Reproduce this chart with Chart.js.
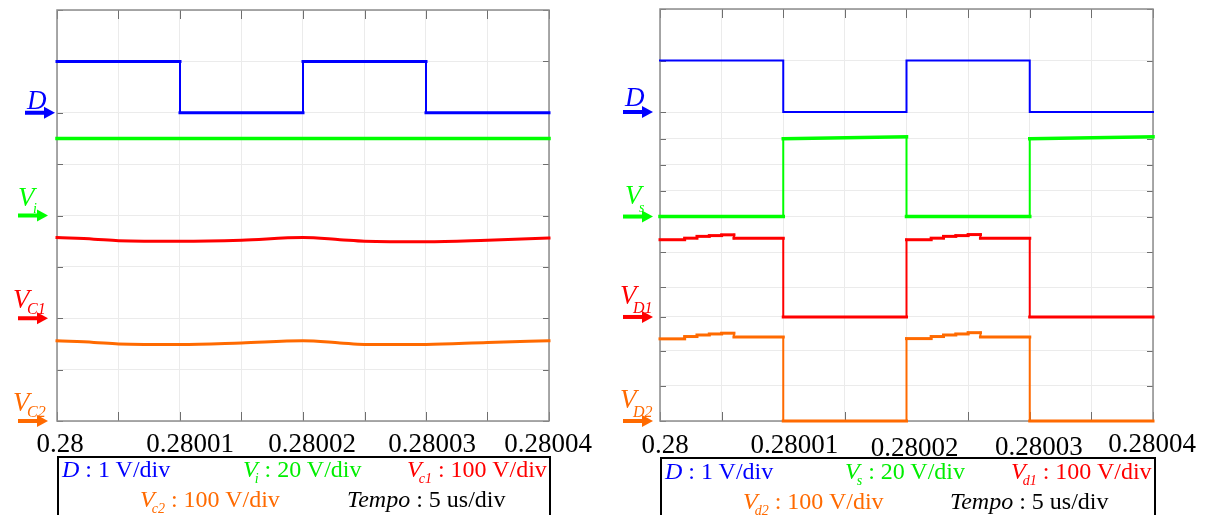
<!DOCTYPE html>
<html>
<head>
<meta charset="utf-8">
<script src="https://cdn.jsdelivr.net/npm/chart.js@4.4.1/dist/chart.umd.min.js"></script>
<style>
body { margin: 0; width: 1210px; height: 515px; background: #fff; position: relative; overflow: hidden; }
.panel { position: absolute; top: 0; width: 605px; height: 515px; }
.legend { position: absolute; border: 2px solid #000; height: 90px; box-sizing: border-box; }
.lt { position: absolute; font-family: "Liberation Serif", "Times New Roman", serif; font-size: 24px; line-height: 24px; white-space: nowrap; }
.lt i { font-style: italic; }
.lt .sb { font-style: italic; font-size: 14px; vertical-align: -6px; margin-left: -3px; }
</style>
</head>
<body>
<div class="panel" style="left:0"><canvas id="leftChart"></canvas></div>
<div class="panel" style="left:605px"><canvas id="rightChart"></canvas></div>

<div class="legend" style="left:57px; top:456px; width:494px"></div>
<div class="lt" style="left:62px; top:457px; color:#0000ff"><i>D</i> : 1 V/div</div>
<div class="lt" style="left:243px; top:457px; color:#00ee00"><i>V</i><span class="sb">i</span> : 20 V/div</div>
<div class="lt" style="left:407px; top:457px; color:#ff0000"><i>V</i><span class="sb">c1</span> : 100 V/div</div>
<div class="lt" style="left:140px; top:487px; color:#ff6a00"><i>V</i><span class="sb">c2</span> : 100 V/div</div>
<div class="lt" style="left:347px; top:487px; color:#000"><i>Tempo</i> : 5 us/div</div>

<div class="legend" style="left:660px; top:457px; width:496px"></div>
<div class="lt" style="left:665px; top:459px; color:#0000ff"><i>D</i> : 1 V/div</div>
<div class="lt" style="left:845px; top:459px; color:#00ee00"><i>V</i><span class="sb">s</span> : 20 V/div</div>
<div class="lt" style="left:1011px; top:459px; color:#ff0000"><i>V</i><span class="sb">d1</span> : 100 V/div</div>
<div class="lt" style="left:743px; top:489px; color:#ff6a00"><i>V</i><span class="sb">d2</span> : 100 V/div</div>
<div class="lt" style="left:950px; top:489px; color:#000"><i>Tempo</i> : 5 us/div</div>

<script>
// time axis (s) - grid every 5 us, labels every 10 us
var timeGrid = [0.28, 0.280005, 0.28001, 0.280015, 0.28002, 0.280025, 0.28003, 0.280035, 0.28004];
var timeLabelValues = [0.28, 0.28001, 0.28002, 0.28003, 0.28004];
var timeLabels = ['0.28', '0.28001', '0.28002', '0.28003', '0.28004'];

// vertical grid in divisions (bottom = 0, top = 8)
var gridLeft = [0, 1, 2, 3, 4, 5, 6, 7, 8];
var gridRight = [0, 0.687, 1.362, 2.02, 2.593, 3.276, 3.97, 4.47, 4.98, 5.48, 6, 7, 8];

// left panel
var stepTime = [0.28, 0.28001, 0.28001, 0.28002, 0.28002, 0.28003, 0.28003, 0.28004];
var dLeft = [7, 7, 6, 6, 7, 7, 6, 6];
var viTime = [0.28, 0.28004];
var viLeft = [5.5, 5.5];
var vcTime = [0.28, 0.280003, 0.280005, 0.28001, 0.280015, 0.28002, 0.280023, 0.280025, 0.28003, 0.280035, 0.28004];
var vc1Left = [3.57, 3.54, 3.51, 3.50, 3.52, 3.57, 3.53, 3.50, 3.49, 3.52, 3.56];
var vc2Left = [1.56, 1.53, 1.50, 1.49, 1.52, 1.56, 1.52, 1.49, 1.49, 1.53, 1.56];

// right panel
var dRight = [7, 7, 6, 6, 7, 7, 6, 6];
var vsRight = [3.97, 3.97, 5.48, 5.52, 3.97, 3.97, 5.48, 5.52];
var vdTime = [0.28, 0.280002, 0.280002, 0.280003, 0.280003, 0.280004, 0.280004, 0.280005, 0.280005, 0.280006,
              0.280006, 0.28001, 0.28001, 0.28002, 0.28002, 0.280022, 0.280022, 0.280023, 0.280023, 0.280024,
              0.280024, 0.280025, 0.280025, 0.280026, 0.280026, 0.28003, 0.28003, 0.28004];
var vd1Right = [3.52, 3.52, 3.55, 3.55, 3.585, 3.585, 3.60, 3.60, 3.615, 3.615,
                3.55, 3.55, 2.02, 2.02, 3.52, 3.52, 3.55, 3.55, 3.585, 3.585,
                3.60, 3.60, 3.62, 3.62, 3.55, 3.55, 2.02, 2.02];
var vd2Right = [1.595, 1.595, 1.64, 1.64, 1.67, 1.67, 1.69, 1.69, 1.705, 1.705,
                1.63, 1.63, 0, 0, 1.60, 1.60, 1.64, 1.64, 1.67, 1.67,
                1.69, 1.69, 1.715, 1.715, 1.63, 1.63, 0, 0];

// ground reference markers (arrows on the left of each plot)
var markerLeft = [6, 4, 2, 0];
var markerRight = [6, 3.97, 2.02, 0];
var namesLeft = [['D', ''], ['V', 'i'], ['V', 'C1'], ['V', 'C2']];
var namesRight = [['D', ''], ['V', 's'], ['V', 'D1'], ['V', 'D2']];

var BLUE = '#0000ff', GREEN = '#00ff00', RED = '#ff0000', ORANGE = '#ff6a00';
var traceColors = [BLUE, GREEN, RED, ORANGE];
var SERIF = '"Liberation Serif", "Times New Roman", serif';

function pts(xs, ys) {
    return xs.map(function (x, i) { return { x: x, y: ys[i] }; });
}

// edges (vertical jumps) look thinner than the flat parts on the scope
function trace(xs, ys, color, width, smooth) {
    return {
        data: pts(xs, ys),
        borderColor: color,
        borderWidth: width,
        pointRadius: 0,
        fill: false,
        clip: false,
        tension: smooth ? 0.4 : 0,
        cubicInterpolationMode: smooth ? 'monotone' : 'default',
        borderJoinStyle: 'miter',
        borderCapStyle: 'square',
        segment: {
            borderWidth: function (c) {
                return Math.abs(c.p0.x - c.p1.x) < 0.5 ? 2 : width;
            }
        }
    };
}

// frame, inward ticks, time labels and channel arrows
var scopeDecor = {
    id: 'scopeDecor',
    beforeDatasetsDraw: function (chart, args, opts) {
        var ctx = chart.ctx, a = chart.chartArea, x = chart.scales.x, y = chart.scales.y;
        ctx.save();
        ctx.strokeStyle = '#6e6e6e';
        ctx.lineWidth = 1;
        ctx.beginPath();
        x.ticks.forEach(function (t) {
            var px = Math.round(x.getPixelForValue(t.value)) + 0.5;
            ctx.moveTo(px, a.top); ctx.lineTo(px, a.top + 9);
            ctx.moveTo(px, a.bottom); ctx.lineTo(px, a.bottom - 9);
        });
        y.ticks.forEach(function (t) {
            var py = Math.round(y.getPixelForValue(t.value)) + 0.5;
            ctx.moveTo(a.left, py); ctx.lineTo(a.left + 6, py);
            ctx.moveTo(a.right, py); ctx.lineTo(a.right - 6, py);
        });
        ctx.stroke();
        ctx.strokeStyle = '#8c8c8c';
        ctx.lineWidth = 1.5;
        ctx.strokeRect(a.left, a.top, a.right - a.left, a.bottom - a.top);
        ctx.restore();
    },
    afterDraw: function (chart, args, opts) {
        var ctx = chart.ctx, a = chart.chartArea, x = chart.scales.x, y = chart.scales.y;
        ctx.save();
        // time labels
        ctx.fillStyle = '#000';
        ctx.font = '27px ' + SERIF;
        ctx.textAlign = 'center';
        ctx.textBaseline = 'alphabetic';
        timeLabelValues.forEach(function (v, i) {
            ctx.fillText(timeLabels[i], x.getPixelForValue(v) + opts.labelShift[i], a.bottom + 31 + opts.labelDrop[i]);
        });
        // channel markers
        ctx.textAlign = 'left';
        opts.levels.forEach(function (lv, i) {
            var c = traceColors[i], m = opts.marks[i];
            var ay = y.getPixelForValue(lv);
            var tip = a.left - m.tip;
            ctx.fillStyle = c;
            ctx.fillRect(tip - 30, ay - 2, 21, 4);
            ctx.beginPath();
            ctx.moveTo(tip, ay);
            ctx.lineTo(tip - 11, ay - 6);
            ctx.lineTo(tip - 11, ay + 6);
            ctx.closePath();
            ctx.fill();
            ctx.font = 'italic 27px ' + SERIF;
            ctx.fillText(opts.names[i][0], tip - m.tx, ay - m.ty);
            if (opts.names[i][1]) {
                ctx.font = 'italic ' + m.ss + 'px ' + SERIF;
                ctx.fillText(opts.names[i][1], tip - m.tx + m.sx, ay - m.sy);
            }
        });
        ctx.restore();
    }
};

function makeChart(id, datasets, grid, deco) {
    return new Chart(document.getElementById(id), {
        type: 'line',
        data: { datasets: datasets },
        options: {
            responsive: true,
            maintainAspectRatio: false,
            animation: false,
            events: [],
            layout: { padding: { top: deco.padTop, right: deco.padRight, left: 0, bottom: 0 } },
            plugins: {
                legend: { display: false },
                tooltip: { enabled: false },
                scopeDecor: deco
            },
            scales: {
                x: {
                    type: 'linear',
                    min: 0.28,
                    max: 0.28004,
                    afterBuildTicks: function (s) { s.ticks = timeGrid.map(function (v) { return { value: v }; }); },
                    afterFit: function (s) { s.height = 94; },
                    ticks: { display: false },
                    grid: { color: '#ebebeb', lineWidth: 1, drawTicks: false },
                    border: { display: false }
                },
                y: {
                    type: 'linear',
                    min: 0,
                    max: 8,
                    afterBuildTicks: function (s) { s.ticks = grid.map(function (v) { return { value: v }; }); },
                    afterFit: function (s) { s.width = deco.axisWidth; },
                    ticks: { display: false },
                    grid: { color: '#ebebeb', lineWidth: 1, drawTicks: false },
                    border: { display: false }
                }
            }
        },
        plugins: [scopeDecor]
    });
}

makeChart('leftChart', [
    trace(stepTime, dLeft, BLUE, 3, false),
    trace(viTime, viLeft, GREEN, 3.5, false),
    trace(vcTime, vc1Left, RED, 3, true),
    trace(vcTime, vc2Left, ORANGE, 3, true)
], gridLeft, {
    padTop: 10, padRight: 56, axisWidth: 57,
    labelShift: [3, 10, 9, 6, -1],
    labelDrop: [0, 0, 0, 0, 0],
    levels: markerLeft,
    names: namesLeft,
    marks: [
        { tip: 2, tx: 28, ty: 4 },
        { tip: 9, tx: 30, ty: 10, sx: 15, sy: 3, ss: 14 },
        { tip: 9, tx: 35, ty: 10, sx: 14, sy: 4, ss: 16 },
        { tip: 9, tx: 35, ty: 10, sx: 14, sy: 4, ss: 16 }
    ]
});

makeChart('rightChart', [
    trace(stepTime, dRight, BLUE, 2, false),
    trace(stepTime, vsRight, GREEN, 3.5, false),
    trace(vdTime, vd1Right, RED, 3, false),
    trace(vdTime, vd2Right, ORANGE, 3, false)
], gridRight, {
    padTop: 9, padRight: 57, axisWidth: 55,
    labelShift: [5, 11, 8, 9, -1],
    labelDrop: [1, 1, 4, 3, 0],
    levels: markerRight,
    names: namesRight,
    marks: [
        { tip: 7, tx: 28, ty: 6 },
        { tip: 7, tx: 28, ty: 13, sx: 14, sy: 5, ss: 14 },
        { tip: 7, tx: 33, ty: 13, sx: 13, sy: 4, ss: 16 },
        { tip: 7, tx: 33, ty: 13, sx: 13, sy: 4, ss: 16 }
    ]
});
</script>
</body>
</html>
